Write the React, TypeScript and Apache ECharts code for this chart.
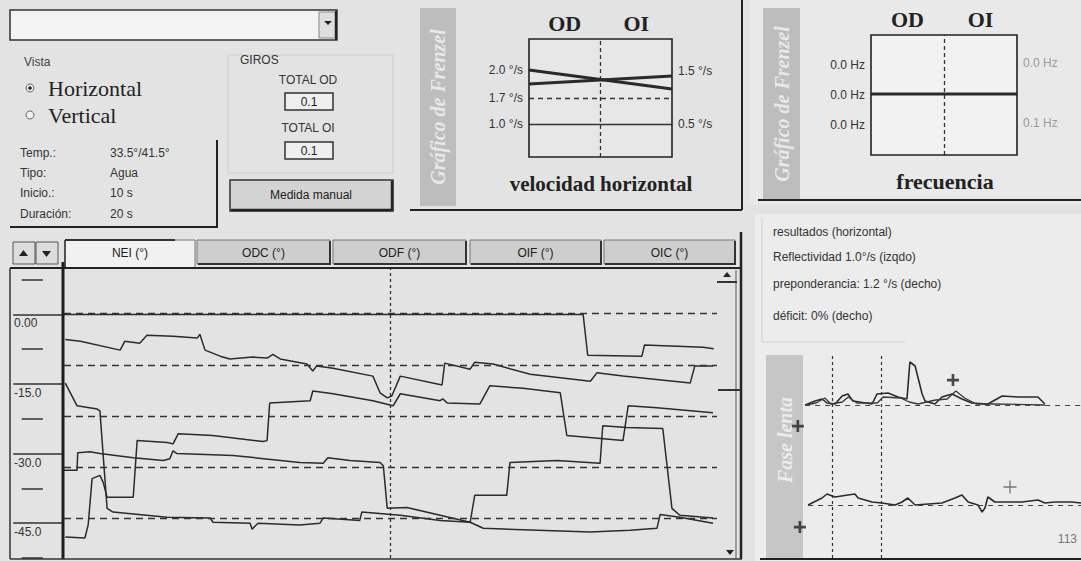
import React, { useEffect, useRef } from 'react';
import * as echarts from 'echarts';

// ---------- DATA ----------
const tabLabels = ['NEI (°)', 'ODC (°)', 'ODF (°)', 'OIF (°)', 'OIC (°)'];
const yTickValues = [0, -15, -30, -45];
const yTickLabels = ['0.00', '-15.0', '-30.0', '-45.0'];
const yMinorTicks = [7.5, -7.5, -22.5, -37.5, -52.5];
const refLevels = [0.3, -11, -22, -33, -44];
const cursorTime = 50;

const trace1 = [[0, 0], [79.5, 0], [80.2, -8.8], [88.5, -9.0], [88.9, -6.6], [97.9, -7.1], [99.5, -7.4]];
const trace2 = [[0.2, -5.4], [2.5, -5.8], [8.6, -7.7], [9.3, -5.8], [11.6, -6.2], [12.7, -4.5], [16.7, -4.7], [20.4, -5.1], [20.8, -4.3], [21.6, -7.7], [23.9, -9.0], [25.4, -9.6], [28.9, -9.2], [31.1, -9.4], [32.0, -8.6], [33.1, -9.6], [37.2, -10.7], [38.1, -12.2], [38.7, -11.1], [41.2, -11.6], [47.3, -13.3], [48.4, -16.9], [49.5, -18.0], [50.2, -17.6], [51.5, -13.3], [57.9, -15.2], [58.3, -10.5], [62.2, -11.8], [62.9, -10.3], [65.7, -10.7], [71.4, -12.9], [80.6, -14.4], [81.6, -12.6], [85.6, -13.3], [95.9, -14.8], [96.6, -11.1], [99.4, -11.1]];
const trace3 = [[0.2, -14.8], [2.0, -19.7], [5.1, -20.4], [5.5, -20.8], [6.6, -41.8], [7.5, -42.6], [15.8, -43.7], [22.4, -43.9], [22.8, -44.8], [28.5, -45.0], [28.8, -46.3], [29.7, -45.0], [36.1, -45.4], [39.2, -45.0], [39.7, -43.9], [45.3, -44.4], [45.6, -42.6], [51.5, -43.3], [57.6, -44.4], [62.2, -44.8], [64.2, -46.1], [80.6, -46.9], [86.7, -46.5], [90.8, -46.1], [91.3, -43.1], [94.3, -43.7], [99.4, -45.0]];
const trace4 = [[0, -33.6], [2.0, -33.6], [2.1, -29.8], [4.0, -29.6], [5.5, -30.0], [10.6, -30.9], [15.2, -31.5], [16.2, -31.1], [16.7, -29.4], [17.3, -30.0], [25.9, -30.4], [36.1, -31.9], [39.7, -32.1], [40.4, -30.9], [43.8, -31.5], [48.4, -31.9], [48.9, -32.6], [49.5, -41.8], [52.5, -41.6], [62.2, -44.8], [62.9, -39.0], [67.8, -39.0], [68.3, -31.9], [75.5, -31.5], [82.1, -32.1], [82.5, -24.0], [86.2, -24.4], [91.7, -24.6], [93.1, -41.8], [94.3, -43.3], [99.4, -43.9]];
const trace5 = [[0.2, -48.0], [3.2, -48.2], [3.7, -45.4], [4.3, -35.4], [5.5, -34.7], [6.0, -36.2], [6.6, -39.4], [10.6, -39.4], [11.2, -27.2], [15.8, -27.6], [16.7, -27.9], [17.5, -25.7], [22.8, -26.1], [30.5, -27.4], [31.1, -27.2], [31.5, -19.1], [37.7, -18.6], [38.1, -16.5], [41.2, -17.1], [47.3, -18.6], [50.4, -19.7], [51.5, -17.1], [57.6, -18.6], [58.0, -18.2], [58.7, -19.1], [63.7, -19.3], [65.2, -15.4], [70.3, -15.9], [76.0, -16.9], [77.0, -26.1], [85.6, -27.2], [86.4, -19.7], [90.8, -20.1], [99.4, -21.2]];

const eyeLabels = ['OD', 'OI'];
const velLeftLabels = ['2.0 °/s', '1.7 °/s', '1.0 °/s'];
const velLeftLevels = [7.37, 5.0, 2.8];
const velRightLabels = ['1.5 °/s', '0.5 °/s'];
const velRightLevels = [7.3, 2.8];
const velLineA = [7.37, 5.76];
const velLineB = [6.19, 6.86];
const velDashedLevel = 5.0;
const velSolidLevel = 2.8;

const freqLeftLabels = ['0.0 Hz', '0.0 Hz', '0.0 Hz'];
const freqLeftLevels = [7.5, 5.0, 2.5];
const freqRightLabels = ['0.0 Hz', '0.1 Hz'];
const freqRightLevels = [7.67, 2.67];
const freqLine = [5.08, 5.08];

const phaseMarks = [14.4, 31.3];
const phaseUp = [[5.2, 0], [8.6, 0.8], [11, 1.2], [12.7, 0.4], [15.5, 0.2], [17.9, 1.8], [19.9, 2.2], [21.6, 0.8], [28.2, 0.2], [29.9, 2.2], [33.7, 2.4], [37.1, 1.6], [40.2, 1.2], [41.2, 8.6], [43, 7.8], [45.4, 2.2], [46.4, 0.8], [49.8, 0.2], [52.2, 1.6], [55.7, 2.2], [59.1, 1.2], [62.5, 0.4], [68, 0.2], [72.9, 1.8], [78.4, 1.6], [85.2, 1.6], [87.6, 0.2]];
const phaseUp2 = [[5.2, 0], [9, 0.4], [12, 1.4], [14, 0.2], [18, 0.6], [20, 1.6], [23, 0.4], [30, 0.4], [32, 1.6], [38, 1.4], [41, 0.6], [44, 0.2], [50, 1.0], [54, 1.2], [57, 2.8], [60, 1.4], [64, 0.2], [70, 0.2], [87.6, 0]];
const phaseLow = [[6.2, 0], [11, 1.4], [12.7, 2.2], [15.5, 1.6], [19.9, 2.0], [22.3, 2.2], [23.4, 1.4], [28.2, 0.6], [31.6, 0.4], [36.1, 0], [38.5, 0.6], [40.5, 1.4], [43, 0], [52.2, 0.4], [56.7, 1.4], [59.1, 2.0], [61.2, 0.6], [64.6, 0], [66, -1.4], [67, -0.6], [68, 1.6], [70.4, 0.6], [79.7, 0.6], [85.2, 1.0], [87.6, 0.4], [91.1, 0.6], [96.9, 0.6], [100, 0.4]];
const phaseUpPlus = [[56, 5]];
const phaseUpLeftPlus = [[2.7, -4.2]];
const phaseLowPlus = [[75.6, 3.6]];
const phaseLowLeftPlus = [[3.4, -4.4]];

const infoLabels = ['Temp.:', 'Tipo:', 'Inicio.:', 'Duración:'];
const infoValues = ['33.5°/41.5°', 'Agua', '10 s', '20 s'];
const resultLines = ['resultados (horizontal)', 'Reflectividad 1.0°/s (izqdo)', 'preponderancia: 1.2 °/s (decho)', 'déficit: 0% (decho)'];

// ---------- STYLE HELPERS ----------
const SANS = '"Liberation Sans", Arial, sans-serif';
const SERIF = '"Liberation Serif", "Times New Roman", serif';
const INK = '#2b2b2b';

const R = (x: number, y: number, w: number, h: number, fill: string, stroke = 'none', lw = 1, z = 0) => ({
  type: 'rect', shape: { x, y, width: w, height: h }, style: { fill, stroke, lineWidth: lw }, z, silent: true,
});
const L = (x1: number, y1: number, x2: number, y2: number, stroke = INK, lw = 1, z = 100, dash?: number[]) => ({
  type: 'line', shape: { x1, y1, x2, y2 }, style: { stroke, lineWidth: lw, lineDash: dash }, z, silent: true,
});
const T = (x: number, y: number, text: string, font: string, fill = INK, align = 'left', va = 'middle', extra: any = {}) => ({
  type: 'text', x, y, style: { text, font, fill, align, verticalAlign: va }, z: 100, silent: true, ...extra,
});
const P = (points: number[][], fill = '#222') => ({ type: 'polygon', shape: { points }, style: { fill }, z: 100, silent: true });

const PLUS_BOLD = 'path://M0,4H10V6.2H0Z M3.9,0H6.1V10H3.9Z';
const PLUS_THIN = 'path://M0,4.5H10V5.5H0Z M4.5,0H5.5V10H4.5Z';

function buildGraphic() {
  const g: any[] = [];
  // light panels
  g.push(R(750, 0, 331, 205, '#e9e9e9'));
  g.push(R(755, 214, 326, 347, '#ececec'));
  g.push(R(529, 39, 143, 118, '#e7e7e7'));
  g.push(R(871, 35, 146, 120, '#f2f2f2'));
  // dropdown
  g.push(R(10, 10, 327, 30, '#f3f3f3', '#333', 1.5, 1));
  g.push(R(319, 12, 16, 26, '#dedede', '#888', 1, 2));
  g.push(P([[324, 21], [332, 21], [328, 25]]));
  g.push(L(336, 11, 336, 40, '#222', 2));
  // vista
  g.push(T(24, 62, 'Vista', `12px ${SANS}`, '#444'));
  g.push({ type: 'circle', shape: { cx: 30, cy: 88, r: 4 }, style: { fill: '#f2f2f2', stroke: '#666', lineWidth: 1 }, z: 100 });
  g.push({ type: 'circle', shape: { cx: 30, cy: 88, r: 1.8 }, style: { fill: '#222' }, z: 101 });
  g.push(T(48, 88, 'Horizontal', `22px ${SERIF}`, '#222'));
  g.push({ type: 'circle', shape: { cx: 30, cy: 115, r: 4 }, style: { fill: '#f2f2f2', stroke: '#666', lineWidth: 1 }, z: 100 });
  g.push(T(48, 115, 'Vertical', `22px ${SERIF}`, '#222'));
  infoLabels.forEach((s, i) => {
    const y = [153, 173, 193, 214][i];
    g.push(T(20, y, s, `12px ${SANS}`, '#333'));
    g.push(T(110, y, infoValues[i], `12px ${SANS}`, '#333'));
  });
  g.push(L(217, 140, 217, 228, '#222', 2));
  g.push(L(10, 227, 217, 227, '#222', 2));
  // giros
  g.push(R(228, 55, 165, 118, 'none', '#cdcdcd', 1, 1));
  g.push(T(240, 60, 'GIROS', `12px ${SANS}`, '#333'));
  g.push(T(308, 80, 'TOTAL OD', `12px ${SANS}`, '#333', 'center'));
  g.push(R(285, 93, 48, 17, '#efefef', '#333', 1.5, 1));
  g.push(T(309, 102, '0.1', `12px ${SANS}`, '#222', 'center'));
  g.push(T(308, 128, 'TOTAL OI', `12px ${SANS}`, '#333', 'center'));
  g.push(R(285, 142, 48, 17, '#efefef', '#333', 1.5, 1));
  g.push(T(309, 151, '0.1', `12px ${SANS}`, '#222', 'center'));
  g.push(R(230, 180, 163, 31, '#d3d3d3', '#333', 1.5, 1));
  g.push(L(231, 210, 393, 210, '#222', 2.5));
  g.push(L(392, 181, 392, 211, '#222', 2.5));
  g.push(T(311, 195, 'Medida manual', `12px ${SANS}`, '#222', 'center'));
  // middle panel frame + band
  g.push(L(742, 0, 742, 210, '#222', 2));
  g.push(L(410, 210, 742, 210, '#222', 2));
  g.push(R(420, 8, 36, 198, '#bdbdbd', 'none', 0, 1));
  g.push(T(438, 107, 'Gráfico de Frenzel', `italic bold 20px ${SERIF}`, '#e8e8e8', 'center', 'middle', { rotation: Math.PI / 2 }));
  g.push(R(529, 39, 143, 118, 'none', '#222', 1.6, 100));
  g.push(T(601, 184, 'velocidad horizontal', `bold 21px ${SERIF}`, '#222', 'center'));
  // right panel
  g.push(R(763, 8, 37, 192, '#bdbdbd', 'none', 0, 1));
  g.push(T(782, 104, 'Gráfico de Frenzel', `italic bold 20px ${SERIF}`, '#e8e8e8', 'center', 'middle', { rotation: Math.PI / 2 }));
  g.push(R(871, 35, 146, 120, 'none', '#222', 1.6, 100));
  g.push(T(945, 181, 'frecuencia', `bold 22px ${SERIF}`, '#222', 'center'));
  g.push(L(758, 200, 1081, 200, '#222', 2));
  // results
  resultLines.forEach((s, i) => g.push(T(773, [232, 257, 284, 316][i], s, `12px ${SANS}`, '#333')));
  g.push(L(762, 218, 762, 342, '#cfcfcf', 1));
  g.push(L(762, 342, 905, 342, '#cfcfcf', 1));
  // fase lenta band
  g.push(R(766, 355, 37, 203, '#c6c6c6', 'none', 0, 1));
  g.push(T(785, 440, 'Fase lenta', `italic bold 20px ${SERIF}`, '#ececec', 'center', 'middle', { rotation: Math.PI / 2 }));
  g.push(L(760, 559, 1081, 559, '#222', 2));
  g.push(T(1077, 539, '113', `12px ${SANS}`, '#777', 'right'));
  // tabs
  const tabX = [65, 197, 333, 470, 604];
  const tabW = [130, 133, 133, 131, 131];
  tabLabels.forEach((s, i) => {
    const active = i === 0;
    g.push(R(tabX[i], 240, tabW[i], active ? 28 : 24, active ? '#f1f1f1' : '#cecece', '#777', 1, 1));
    if (!active) {
      g.push(L(tabX[i] + 1, 264, tabX[i] + tabW[i], 264, '#333', 2));
      g.push(L(tabX[i] + tabW[i], 241, tabX[i] + tabW[i], 265, '#333', 2));
    } else {
      g.push(L(tabX[i], 240, tabX[i] + tabW[i] - 20, 240, '#333', 2));
      g.push(L(tabX[i], 240, tabX[i], 268, '#333', 1.5));
    }
    g.push(T(tabX[i] + tabW[i] / 2, 253, s, `12px ${SANS}`, '#222', 'center'));
  });
  g.push(R(13, 242, 22, 22, '#dcdcdc', '#555', 1, 1));
  g.push(R(36, 242, 22, 22, '#dcdcdc', '#555', 1, 1));
  g.push(P([[19, 256], [28, 256], [23.5, 250]]));
  g.push(P([[42, 251], [51, 251], [46.5, 257]]));
  // main plot frame
  g.push(L(10, 268, 742, 268, '#222', 2));
  g.push(L(63, 262, 63, 559, '#1e1e1e', 3));
  g.push(L(10, 268, 10, 559, '#333', 1.5));
  g.push(L(741, 232, 741, 559, '#222', 2.5));
  g.push(L(736, 270, 736, 559, '#555', 1));
  g.push(L(10, 559, 742, 559, '#333', 1.5));
  g.push(P([[723, 277], [731, 277], [727, 272]]));
  g.push(L(717, 282, 737, 282, '#333', 2));
  g.push(L(718, 390, 741, 390, '#333', 2));
  g.push(P([[726, 550], [734, 550], [730, 555]]));
  return g;
}

function buildOption(): any {
  const hidden = (gridIndex: number, min: number, max: number) => ({ gridIndex, type: 'value', min, max, show: false });
  const mainLine = (data: number[][], extra: any = {}) => ({
    type: 'line', xAxisIndex: 0, yAxisIndex: 0, data, showSymbol: false, symbol: 'none', silent: true,
    lineStyle: { color: INK, width: 1.5 }, z: 3, ...extra,
  });
  const labelLine = (v: number, text: string, pos: string, color = '#333') => ({
    yAxis: v, lineStyle: { color: 'rgba(0,0,0,0)', width: 0 },
    label: { show: true, position: pos, formatter: text, color, fontSize: 12, fontFamily: SANS, distance: 6 },
  });
  const catAxis = (gridIndex: number) => ({
    gridIndex, type: 'category', data: eyeLabels, position: 'top',
    axisLine: { show: false }, axisTick: { show: false }, splitLine: { show: false },
    axisLabel: { fontFamily: SERIF, fontWeight: 'bold', fontSize: 22, color: '#222', margin: 5 },
  });
  const plusSeries = (xi: number, yi: number, data: number[][], bold: boolean) => ({
    type: 'scatter', xAxisIndex: xi, yAxisIndex: yi, data, symbol: bold ? PLUS_BOLD : PLUS_THIN,
    symbolSize: bold ? 12 : 13, itemStyle: { color: bold ? '#222' : '#555' }, silent: true, z: 5,
  });
  const phaseLineStyle = { color: INK, width: 1.6 };

  return {
    animation: false,
    backgroundColor: '#e3e3e3',
    grid: [
      { left: 64, top: 268, width: 653, height: 290 },
      { left: 10, top: 268, width: 53, height: 290 },
      { left: 529, top: 39, width: 143, height: 118 },
      { left: 871, top: 35, width: 146, height: 120 },
      { left: 790, top: 355, width: 291, height: 100 },
      { left: 790, top: 455, width: 291, height: 103 },
    ],
    xAxis: [
      hidden(0, 0, 100),
      hidden(1, 0, 1),
      catAxis(2),
      hidden(2, 0, 1),
      catAxis(3),
      hidden(3, 0, 1),
      hidden(4, 0, 100),
      hidden(5, 0, 100),
    ],
    yAxis: [
      hidden(0, -52.5, 10),
      {
        gridIndex: 1, type: 'value', min: -52.5, max: 10, interval: 7.5,
        axisLine: { show: false }, axisTick: { show: false }, splitLine: { show: false },
        axisLabel: {
          inside: true, margin: 4, align: 'left', verticalAlign: 'top', padding: [3, 0, 0, 0],
          fontSize: 12, fontFamily: SANS, color: '#333',
          formatter: (v: number) => {
            const i = yTickValues.indexOf(Math.round(v * 10) / 10);
            return i >= 0 ? yTickLabels[i] : '';
          },
        },
      },
      hidden(2, 0, 10),
      hidden(3, 0, 10),
      hidden(4, -10, 10),
      hidden(5, -10.6, 10),
    ],
    graphic: { elements: buildGraphic() },
    series: [
      mainLine(trace1, {
        markLine: {
          symbol: ['none', 'none'], silent: true, label: { show: false },
          lineStyle: { type: [7, 5], color: '#333', width: 1.4 },
          data: [
            ...refLevels.map((v) => ({ yAxis: v })),
            { xAxis: cursorTime, lineStyle: { type: [3, 3], width: 1.3, color: '#333' } },
          ],
        },
      }),
      mainLine(trace2),
      mainLine(trace3),
      mainLine(trace4),
      mainLine(trace5),
      {
        type: 'line', xAxisIndex: 1, yAxisIndex: 1, data: [], silent: true,
        markLine: {
          symbol: ['none', 'none'], silent: true, label: { show: false },
          lineStyle: { type: 'solid', color: '#333', width: 1.5 },
          data: [
            ...yTickValues.map((v) => [{ coord: [0.06, v] }, { coord: [1, v] }]),
            ...yMinorTicks.map((v) => [{ coord: [0.22, v] }, { coord: [0.62, v] }]),
          ],
        },
      },
      {
        type: 'line', xAxisIndex: 3, yAxisIndex: 2, data: [[0, velLineA[0]], [1, velLineA[1]]],
        symbol: 'none', silent: true, lineStyle: { color: '#2a2a2a', width: 3 }, z: 4,
        markLine: {
          symbol: ['none', 'none'], silent: true, label: { show: false },
          lineStyle: { type: 'solid', color: '#333', width: 1.4 },
          data: [
            { xAxis: 0.5, lineStyle: { type: [4, 3], width: 1.3, color: '#333' } },
            { yAxis: velDashedLevel, lineStyle: { type: [5, 4], width: 1.4, color: '#333' } },
            { yAxis: velSolidLevel },
            ...velLeftLevels.map((v, i) => labelLine(v, velLeftLabels[i], 'start')),
            ...velRightLevels.map((v, i) => labelLine(v, velRightLabels[i], 'end')),
          ],
        },
      },
      {
        type: 'line', xAxisIndex: 3, yAxisIndex: 2, data: [[0, velLineB[0]], [1, velLineB[1]]],
        symbol: 'none', silent: true, lineStyle: { color: '#2a2a2a', width: 3 }, z: 4,
      },
      {
        type: 'line', xAxisIndex: 5, yAxisIndex: 3, data: [[0, freqLine[0]], [1, freqLine[1]]],
        symbol: 'none', silent: true, lineStyle: { color: '#2a2a2a', width: 3 }, z: 4,
        markLine: {
          symbol: ['none', 'none'], silent: true, label: { show: false },
          data: [
            { xAxis: 0.5, lineStyle: { type: [4, 3], width: 1.3, color: '#333' } },
            ...freqLeftLevels.map((v, i) => labelLine(v, freqLeftLabels[i], 'start')),
            ...freqRightLevels.map((v, i) => labelLine(v, freqRightLabels[i], 'end', '#9a9a9a')),
          ],
        },
      },
      {
        type: 'line', xAxisIndex: 6, yAxisIndex: 4, data: phaseUp, symbol: 'none', silent: true,
        lineStyle: phaseLineStyle, z: 4,
        markLine: {
          symbol: ['none', 'none'], silent: true, label: { show: false },
          lineStyle: { type: [5, 5], color: '#444', width: 1.2 },
          data: [
            [{ coord: [5.2, 0] }, { coord: [100, 0] }],
            ...phaseMarks.map((v) => ({ xAxis: v, lineStyle: { type: [3, 3], width: 1.2, color: '#333' } })),
          ],
        },
      },
      {
        type: 'line', xAxisIndex: 6, yAxisIndex: 4, data: phaseUp2, symbol: 'none', silent: true,
        lineStyle: { color: '#3a3a3a', width: 1.3 }, z: 4,
      },
      {
        type: 'line', xAxisIndex: 7, yAxisIndex: 5, data: phaseLow, symbol: 'none', silent: true,
        lineStyle: phaseLineStyle, z: 4,
        markLine: {
          symbol: ['none', 'none'], silent: true, label: { show: false },
          lineStyle: { type: [5, 5], color: '#444', width: 1.2 },
          data: [
            [{ coord: [6.2, 0] }, { coord: [100, 0] }],
            ...phaseMarks.map((v) => ({ xAxis: v, lineStyle: { type: [3, 3], width: 1.2, color: '#333' } })),
          ],
        },
      },
      plusSeries(6, 4, phaseUpPlus, true),
      plusSeries(6, 4, phaseUpLeftPlus, true),
      plusSeries(7, 5, phaseLowPlus, false),
      plusSeries(7, 5, phaseLowLeftPlus, true),
    ],
  };
}

export default function App() {
  const ref = useRef<HTMLDivElement>(null);
  useEffect(() => {
    if (!ref.current) return;
    const chart = echarts.init(ref.current, undefined, { renderer: 'svg' });
    chart.setOption(buildOption());
    return () => chart.dispose();
  }, []);
  return <div ref={ref} style={{ position: 'absolute', left: 0, top: 0, width: 1081, height: 561 }} />;
}
